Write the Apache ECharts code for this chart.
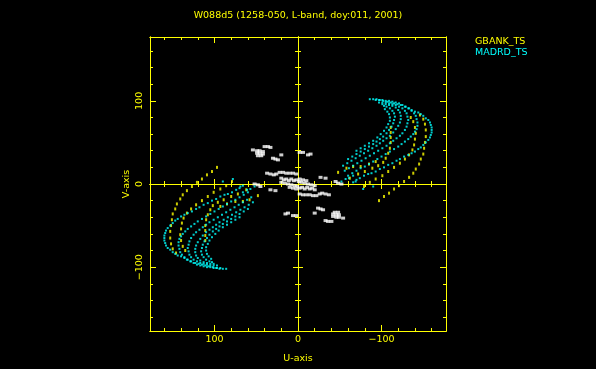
<!DOCTYPE html>
<html><head><meta charset="utf-8">
<script src="https://cdn.jsdelivr.net/npm/echarts@6/dist/echarts.min.js"></script>
<style>html,body{margin:0;padding:0;background:#000;}#c{width:596px;height:369px;}</style>
</head><body><div id="c"></div>
<script>
// ---------------- data ----------------
const titleText = 'W088d5 (1258-050, L-band, doy:011, 2001)';
const seriesNames = ['GBANK_TS', 'MADRD_TS'];
const axisNames = ['U-axis', 'V-axis'];
const tickLabels = { '100': '100', '0': '0', '-100': '\u2212100' };

// ground baselines (white); conjugate points are added when building
const groundUV = [
  [54,41],[49,40],[46,40],[42,39],[49,37],[46,37],[42,36],[48,34],[44,34],
  [40,45],[36,45],[33,44],
  [30,31],[27,30],[24,29],[20,35],
  [-2,38],[-6,38],[-12,35],[-15,36],
  [37,13],[33,12],[29,11],[26,12],
  [22,14],[18,14],[14,13],[10,13],[6,13],[2,12],
  [20,7],[17,5],[14,6],[11,4],[8,6],[5,4],[2,5],[-1,3],[-4,2],
  [20,2],[16,1],[12,0],[8,-1],[10,-4],[6,-5],[2,-6],
  [52,0],[48,-1],[45,-3],
  [33,-7],[27,-8]
];

// GBANK - TS (yellow) tracks
const gbankTrack1 = [[97,20],[103,15],[109,11],[115,6],[121,2],[127,-3],[133,-8],[138,-13],[141,-18],[145,-24],[147,-30],[150,-36],[151,-43],[152,-50],[153,-57],[153,-65],[152,-72],[150,-78],[146,-83]];
const gbankTrack2 = [[79,3],[86,-2],[93,-6],[101,-10],[108,-15],[115,-20],[122,-25],[128,-30],[133,-35],[137,-41],[139,-47],[140,-54],[141,-61],[140,-68],[138,-75],[135,-80]];
const gbankTrack3 = [[62,-7],[72,-12],[80,-15],[89,-19],[96,-22],[102,-26],[105,-31],[108,-37],[110,-43],[111,-50],[111,-56],[111,-62],[111,-68]];
const gbankTrack4 = [[48,-14],[58,-19],[66,-21],[75,-21],[85,-24],[93,-27]];

// MADRD - TS (cyan) tracks
const madrdTrack1 = [[66,-2],[70,-5],[74,-7],[79,-10],[84,-12],[88,-13],[93,-15],[98,-18],[103,-20],[108,-23],[113,-25],[118,-28],[122,-30],[127,-33],[132,-35],[136,-37],[140,-39],[144,-42],[147,-44],[150,-47],[153,-50],[156,-53],[158,-56],[159,-59],[160,-62],[160,-65],[160,-68],[159,-71],[158,-74],[156,-77],[153,-79],[150,-82],[147,-84],[144,-86],[140,-87],[136,-89],[132,-91],[128,-93],[123,-95],[119,-96],[115,-97],[111,-98],[107,-99],[102,-100],[98,-101],[94,-102],[90,-102],[86,-102]];
const madrdTrack2 = [[60,-10],[65,-13],[70,-16],[75,-19],[80,-21],[85,-24],[90,-27],[95,-30],[100,-33],[105,-36],[110,-39],[115,-42],[120,-45],[124,-48],[128,-51],[132,-54],[135,-57],[138,-60],[140,-63],[142,-66],[143,-70],[143,-74],[142,-78],[141,-82],[139,-85],[136,-88],[133,-91],[129,-93],[125,-95],[121,-97],[117,-98],[113,-99],[109,-100],[105,-100],[101,-101],[97,-101],[93,-101]];
const madrdTrack3 = [[56,-16],[61,-19],[66,-22],[71,-25],[76,-28],[81,-31],[86,-34],[91,-37],[96,-40],[101,-43],[106,-46],[110,-49],[114,-52],[118,-55],[122,-58],[125,-61],[128,-65],[130,-69],[131,-73],[132,-77],[131,-81],[130,-85],[128,-88],[125,-91],[121,-93],[117,-95],[113,-96],[109,-97],[105,-98],[101,-98],[97,-98]];
const madrdTrack4 = [[54,-22],[59,-25],[64,-28],[69,-31],[74,-34],[79,-37],[84,-40],[89,-43],[94,-46],[98,-49],[102,-52],[106,-55],[110,-58],[114,-62],[117,-66],[120,-70],[122,-74],[123,-78],[123,-82],[122,-86],[120,-89],[117,-92],[113,-94],[109,-95],[105,-96],[101,-96]];
const madrdTrack5 = [[60,-30],[65,-33],[70,-36],[75,-39],[80,-42],[85,-45],[90,-48],[94,-51],[98,-54],[102,-57],[106,-61],[109,-65],[112,-69],[114,-73],[115,-77],[116,-81],[115,-85],[113,-88],[110,-91],[106,-93],[103,-94]];
const madrdTrack6 = [[70,-40],[75,-43],[80,-46],[85,-49],[90,-52],[95,-56],[99,-60],[103,-64],[106,-68],[108,-72],[110,-76],[110,-80],[109,-84],[107,-87],[104,-90]];
const madrdExtra = [[52,-3],[57,-6],[61,-7],[66,-10],[69,-3],[78,6],[90,3]];

// ---------------- build ----------------
function withConjugates(tracks) {
  const out = [];
  tracks.forEach(t => t.forEach(p => out.push([p[0], p[1]])));
  tracks.forEach(t => t.forEach(p => out.push([-p[0], -p[1]])));
  return out;
}

const FONT = 'DejaVu Sans';
const YEL = '#ffff00';
const CYAN = '#00ffff';
const UMAX = 177.2, VMAX = 176.8;

function fmt(v) {
  const r = Math.round(v);
  if (Math.abs(v - r) > 1e-6) return '';
  return tickLabels[String(r)] || '';
}

function makeAxis(dim, position, split, len, inside, onZero, withLabels) {
  const isX = dim === 'x';
  const ax = {
    type: 'value',
    min: isX ? -UMAX : -VMAX,
    max: isX ? UMAX : VMAX,
    inverse: isX,
    position: position,
    splitNumber: split,
    splitLine: { show: false },
    axisLine: { show: true, onZero: onZero, lineStyle: { color: YEL, width: 1 } },
    axisTick: { show: true, inside: inside, length: len, lineStyle: { color: YEL, width: 1 } },
    axisLabel: { show: false },
    silent: true
  };
  if (onZero) ax.axisLine.onZeroAxisIndex = 0;
  if (withLabels) {
    ax.axisLabel = {
      show: true, color: YEL, fontFamily: FONT, fontSize: 9.5,
      margin: isX ? 4 : 5, rotate: isX ? 0 : 90,
      formatter: fmt, showMinLabel: true, showMaxLabel: true
    };
    ax.name = isX ? axisNames[0] : axisNames[1];
    ax.nameLocation = 'middle';
    ax.nameGap = isX ? 23 : 18;
    ax.nameRotate = isX ? 0 : 90;
    ax.nameTextStyle = { color: YEL, fontFamily: FONT, fontSize: 9.5 };
  }
  return ax;
}

const xAxes = [
  makeAxis('x', 'bottom', 18, 3, true, false, false),
  makeAxis('x', 'bottom', 4, 6, true, false, true),
  makeAxis('x', 'top', 18, 3, true, false, false),
  makeAxis('x', 'top', 4, 6, true, false, false),
  makeAxis('x', 'bottom', 18, 3, true, true, false),
  makeAxis('x', 'bottom', 18, 3, false, true, false),
  makeAxis('x', 'bottom', 4, 5, true, true, false),
  makeAxis('x', 'bottom', 4, 5, false, true, false)
];
const yAxes = [
  makeAxis('y', 'left', 18, 3, true, false, false),
  makeAxis('y', 'left', 4, 6, true, false, true),
  makeAxis('y', 'right', 18, 3, true, false, false),
  makeAxis('y', 'right', 4, 6, true, false, false),
  makeAxis('y', 'left', 18, 3, true, true, false),
  makeAxis('y', 'left', 18, 3, false, true, false),
  makeAxis('y', 'left', 4, 5, true, true, false),
  makeAxis('y', 'left', 4, 5, false, true, false)
];

const chart = echarts.init(document.getElementById('c'), null, { renderer: 'canvas' });
chart.setOption({
  backgroundColor: '#000000',
  animation: false,
  title: {
    text: titleText, left: 'center', top: 11, padding: 0,
    textStyle: { color: YEL, fontFamily: FONT, fontSize: 9.5, fontWeight: 'normal' }
  },
  legend: {
    orient: 'vertical', left: 470, top: 36, padding: 0, itemGap: 0,
    itemWidth: 0, itemHeight: 0, icon: 'rect', selectedMode: false,
    textStyle: { fontFamily: FONT, fontSize: 9.5, lineHeight: 11 },
    data: [
      { name: seriesNames[0], textStyle: { color: YEL } },
      { name: seriesNames[1], textStyle: { color: CYAN } }
    ]
  },
  grid: { left: 150, top: 37, width: 296, height: 294 },
  xAxis: xAxes,
  yAxis: yAxes,
  series: [
    { type: 'scatter', name: 'ground', symbol: 'rect', symbolSize: [4, 3], silent: true,
      itemStyle: { color: '#ffffff' }, data: withConjugates([groundUV]) },
    { type: 'scatter', name: seriesNames[0], symbol: 'rect', symbolSize: [2, 3], silent: true,
      itemStyle: { color: YEL }, data: withConjugates([gbankTrack1, gbankTrack2, gbankTrack3, gbankTrack4]) },
    { type: 'scatter', name: seriesNames[1], symbol: 'rect', symbolSize: 2, silent: true,
      itemStyle: { color: CYAN }, data: withConjugates([madrdTrack1, madrdTrack2, madrdTrack3, madrdTrack4, madrdTrack5, madrdTrack6, madrdExtra]) }
  ]
});
</script></body></html>
